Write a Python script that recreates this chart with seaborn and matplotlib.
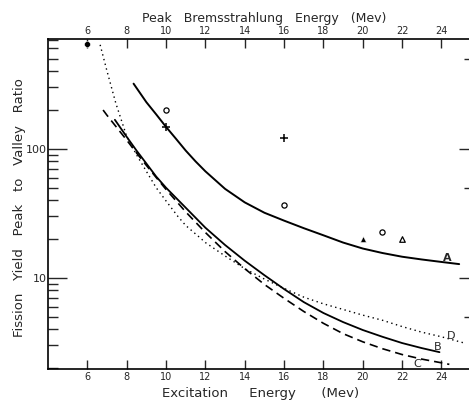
import matplotlib
matplotlib.use("Agg")
import matplotlib.pyplot as plt
from matplotlib.ticker import LogLocator, NullFormatter, FixedLocator
import numpy as np
import pandas as pd
import seaborn as sns

# curves (excitation energy in Mev, peak-to-valley ratio)
A_x = [8.35, 9, 9.5, 10, 10.5, 11, 11.5, 12, 13, 14, 15, 16, 17, 18, 19, 20, 21, 22, 23, 24, 24.9]
A_y = [320, 230, 185, 148, 120, 97, 80, 67, 49, 38.5, 32, 27.8, 24.3, 21.4, 18.8, 16.9, 15.6, 14.6, 13.9, 13.3, 12.8]

B_x = [7.4, 8, 8.5, 9, 9.5, 10, 11, 12, 13, 14, 15, 16, 17, 18, 19, 20, 21, 22, 23, 23.9]
B_y = [168, 124, 97, 77, 61, 50, 35, 24.5, 18.0, 13.6, 10.5, 8.2, 6.5, 5.35, 4.55, 3.95, 3.5, 3.13, 2.86, 2.66]

C_x = [6.8, 7, 7.5, 8, 8.5, 9, 9.5, 10, 11, 12, 13, 14, 15, 16, 17, 18, 19, 20, 21, 22, 23, 24, 24.4]
C_y = [200, 182, 146, 117, 93, 74.5, 60, 48.5, 32.5, 22.5, 16.0, 11.8, 8.9, 6.95, 5.5, 4.45, 3.7, 3.2, 2.83, 2.55, 2.35, 2.2, 2.14]

D_x = [6.65, 7.0, 7.45, 8, 8.5, 9, 9.5, 10, 10.6, 11, 11.74, 12, 13, 14, 15, 16, 17, 18, 19, 20, 21, 22, 23, 24, 25.1]
D_y = [640, 400, 225, 125, 90, 67, 50, 39.5, 30, 25.5, 20.4, 18.8, 14.8, 11.8, 9.8, 8.3, 7.1, 6.3, 5.7, 5.15, 4.7, 4.2, 3.8, 3.5, 3.15]

# measured points
open_circle_x = [10, 16, 21]
open_circle_y = [200, 37, 22.7]
plus_x = [10, 16]
plus_y = [148, 122]
filled_tri_x = [20]
filled_tri_y = [20]
open_tri_x = [22]
open_tri_y = [20]
filled_dot_x = [6]
filled_dot_y = [650]

curve_labels = ["A", "B", "C", "D"]
label_x = [24.3, 23.8, 22.75, 24.5]
label_y = [14.3, 2.9, 2.15, 3.55]

energy_ticks = [6, 8, 10, 12, 14, 16, 18, 20, 22, 24]

sns.set_style("ticks")
plt.rcParams['font.family'] = ['DejaVu Sans']

fig = plt.figure(figsize=(4.69, 4.0), dpi=100)
ax = fig.add_axes([48 / 469, 31 / 400, 421 / 469, 330 / 400])

sns.lineplot(x=A_x, y=A_y, ax=ax, color='black', lw=1.4)
sns.lineplot(x=B_x, y=B_y, ax=ax, color='black', lw=1.3)
sns.lineplot(x=C_x, y=C_y, ax=ax, color='black', lw=1.2, linestyle=(0, (5, 3)))
sns.lineplot(x=D_x, y=D_y, ax=ax, color='black', lw=1.0, linestyle=(0, (1, 2.5)))

sns.scatterplot(x=open_circle_x, y=open_circle_y, ax=ax, marker='o', s=14,
                facecolor='white', edgecolor='black', linewidth=0.9, zorder=5)
sns.scatterplot(x=plus_x, y=plus_y, ax=ax, marker='+', s=30, color='black', linewidth=1.1, zorder=5)
sns.scatterplot(x=filled_tri_x, y=filled_tri_y, ax=ax, marker='^', s=18, color='black', zorder=5)
sns.scatterplot(x=open_tri_x, y=open_tri_y, ax=ax, marker='^', s=16,
                facecolor='white', edgecolor='black', linewidth=0.9, zorder=5)
sns.scatterplot(x=filled_dot_x, y=filled_dot_y, ax=ax, marker='o', s=18, color='black',
                zorder=5, clip_on=False)

for lab, lx, ly in zip(curve_labels, label_x, label_y):
    ax.text(lx, ly, lab, fontsize=8, ha='center', va='center', fontweight='bold' if lab == 'A' else 'normal')

ax.set_yscale('log')
ax.set_xlim(4.0, 25.4)
ax.set_ylim(1.97, 710)

ax.set_xticks(energy_ticks)
ax.set_xticklabels([str(t) for t in energy_ticks])
ax.yaxis.set_major_locator(FixedLocator([10, 100]))
ax.set_yticklabels(['10', '100'])
ax.yaxis.set_minor_locator(LogLocator(base=10, subs=(3, 4, 5, 6, 7, 8, 9, 2)))
ax.yaxis.set_minor_formatter(NullFormatter())

ax.tick_params(axis='x', which='major', direction='in', length=6.5, width=1,
               top=True, labeltop=True, bottom=True, labelbottom=True, labelsize=7, pad=2)
ax.tick_params(axis='x', which='minor', top=False, bottom=False)
ax.tick_params(axis='y', which='major', direction='in', length=14, width=1,
               right=False, labelsize=8, pad=1)
ax.tick_params(axis='y', which='minor', direction='in', length=7, width=1, right=False)

for side in ['left', 'top', 'bottom']:
    ax.spines[side].set_linewidth(1.2)
    ax.spines[side].set_color('black')
ax.spines['right'].set_visible(False)

# the right-hand edge only carries a few short ticks
twin = ax.twinx()
twin.set_yscale('log')
twin.set_ylim(1.97, 710)
twin.yaxis.set_major_locator(FixedLocator([10, 100]))
twin.yaxis.set_minor_locator(FixedLocator([5, 50, 500]))
twin.yaxis.set_major_formatter(NullFormatter())
twin.yaxis.set_minor_formatter(NullFormatter())
twin.tick_params(axis='y', which='major', direction='in', length=7, width=1)
twin.tick_params(axis='y', which='minor', direction='in', length=3.5, width=1)
for side in twin.spines:
    twin.spines[side].set_visible(False)

ax.set_xlabel("")
ax.set_ylabel("")
fig.text(0.555, 0.017, "Excitation     Energy      (Mev)", ha='center', va='center', fontsize=9.5)
fig.text(0.563, 0.954, "Peak   Bremsstrahlung   Energy   (Mev)", ha='center', va='center', fontsize=9)
fig.text(0.041, 0.48, "Fission   Yield   Peak   to   Valley   Ratio", ha='center', va='center',
         rotation=90, fontsize=9.5)

plt.savefig("out.png", dpi=100)
